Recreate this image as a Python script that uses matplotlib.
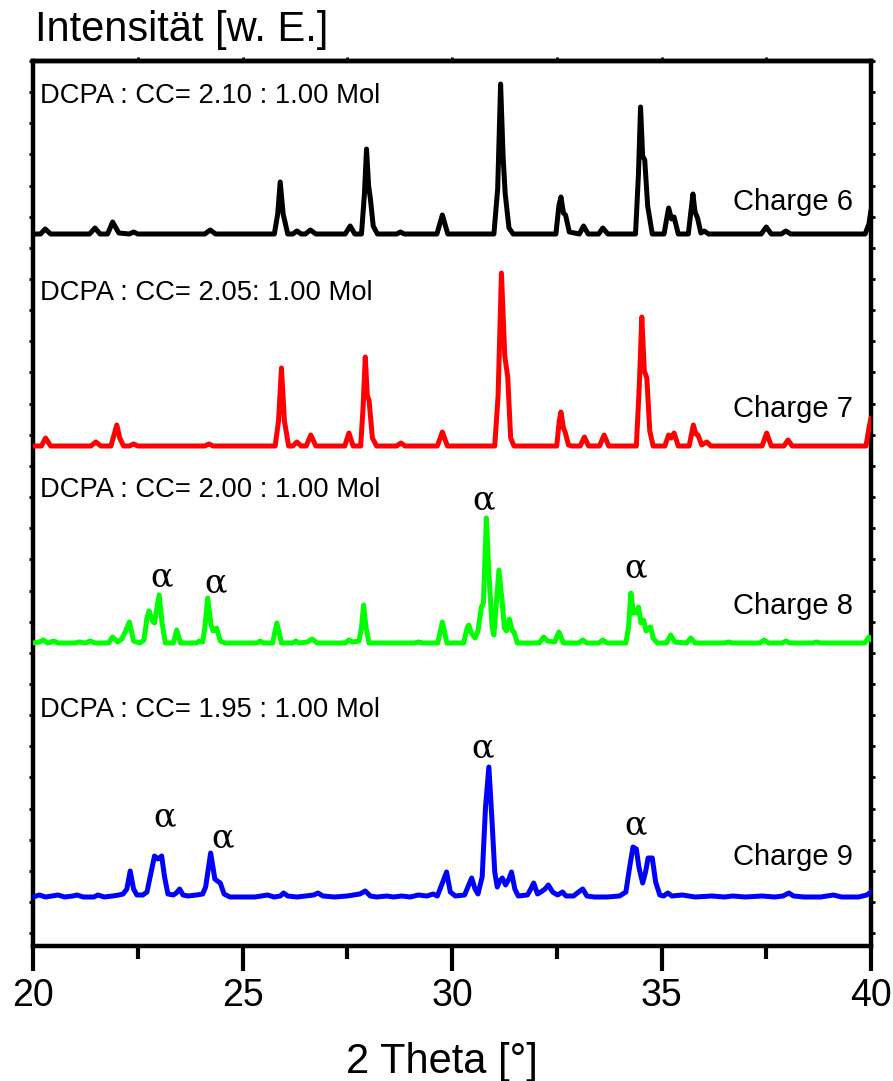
import matplotlib
matplotlib.use("Agg")
import matplotlib.pyplot as plt
import numpy as np

# ---------------- data (2theta [deg], intensity [a.u.] above each baseline) ----------------
charge6 = [(20.00,0),(20.18,0),(20.29,5),(20.42,0),(21.35,0),(21.48,6),(21.60,0),(21.78,0),(21.90,12),
           (22.05,1),(22.30,0),(22.40,2),(22.50,0),(24.10,0),(24.23,4),(24.36,0),(25.76,0),(25.84,20),
           (25.90,52),(25.97,20),(26.08,0),(26.20,0),(26.30,3),(26.40,0),(26.50,0),(26.62,4),(26.75,0),
           (27.45,0),(27.57,8),(27.68,0),(27.84,0),(27.91,40),(27.96,85),(28.01,48),(28.05,36),(28.12,8),
           (28.22,0),(28.68,0),(28.77,2),(28.86,0),(29.64,0),(29.77,19),(29.90,0),(31.00,0),(31.09,45),
           (31.16,150),(31.22,77),(31.27,40),(31.36,6),(31.46,0),(32.48,0),(32.55,28),(32.60,37),(32.66,21),
           (32.71,19),(32.80,2),(33.04,0),(33.14,8),(33.25,0),(33.50,0),(33.60,6),(33.72,0),(34.38,0),
           (34.45,60),(34.50,127),(34.55,78),(34.60,74),(34.67,28),(34.78,0),(35.06,0),(35.17,26),(35.24,15),
           (35.30,17),(35.40,0),(35.64,0),(35.75,40),(35.80,22),(35.86,16),(35.94,1),(36.02,3),(36.12,0),
           (37.38,0),(37.50,7),(37.62,0),(37.86,0),(37.97,3),(38.08,0),(39.86,0),(39.95,10),(40.00,24)]

charge7 = [(20.00,0),(20.20,0),(20.30,8),(20.42,0),(21.38,0),(21.50,4),(21.62,0),(21.86,0),(21.94,12),
           (22.00,21),(22.07,8),(22.16,0),(22.30,0),(22.40,2),(22.50,0),(24.10,0),(24.20,2),(24.30,0),
           (25.78,0),(25.86,25),(25.93,78),(26.00,25),(26.10,0),(26.20,0),(26.30,4),(26.40,0),(26.52,0),
           (26.63,11),(26.75,0),(27.44,0),(27.54,13),(27.64,0),(27.82,0),(27.88,40),(27.93,89),(27.98,50),
           (28.02,46),(28.10,8),(28.20,0),(28.68,0),(28.78,3),(28.88,0),(29.65,0),(29.77,14),(29.89,0),
           (31.02,0),(31.10,50),(31.18,173),(31.26,90),(31.33,69),(31.40,8),(31.48,0),(32.50,0),(32.56,25),
           (32.60,34),(32.66,18),(32.70,14),(32.78,1),(32.86,0),(33.06,0),(33.16,9),(33.26,0),(33.52,0),
           (33.63,11),(33.74,0),(34.40,0),(34.47,60),(34.53,129),(34.59,75),(34.65,68),(34.72,15),(34.80,0),
           (35.08,0),(35.17,11),(35.23,8),(35.30,13),(35.40,0),(35.66,0),(35.76,21),(35.82,12),(35.87,11),
           (35.96,1),(36.08,4),(36.18,0),(37.40,0),(37.51,13),(37.62,0),(37.92,0),(38.02,6),(38.12,0),
           (39.88,0),(39.96,20),(40.00,28)]

charge8 = [(20.00,0),(20.15,1),(20.25,3),(20.35,0),(20.50,2),(20.60,0),(21.00,0),(21.10,1),(21.25,0),
           (21.36,2),(21.48,0),(21.80,0),(21.90,6),(22.02,1),(22.12,4),(22.20,11),(22.30,21),(22.40,2),
           (22.55,0),(22.65,3),(22.72,25),(22.77,32),(22.85,22),(22.90,20),(22.96,35),(23.01,48),(23.08,20),
           (23.16,0),(23.35,0),(23.43,13),(23.52,0),(23.90,0),(23.97,2),(24.05,1),(24.10,15),(24.17,45),
           (24.25,18),(24.30,12),(24.38,15),(24.47,2),(24.58,0),(25.35,0),(25.42,2),(25.50,0),(25.72,0),
           (25.82,20),(25.93,0),(26.20,0),(26.27,2),(26.35,0),(26.55,1),(26.66,4),(26.78,0),(27.45,0),
           (27.54,3),(27.62,1),(27.78,2),(27.84,15),(27.89,38),(27.95,15),(28.02,0),(29.10,0),(29.20,1),
           (29.30,0),(29.66,0),(29.77,21),(29.88,0),(30.28,0),(30.36,15),(30.40,18),(30.46,10),(30.55,5),
           (30.62,12),(30.70,36),(30.75,40),(30.82,125),(30.88,70),(30.96,15),(31.00,8),(31.06,40),
           (31.12,73),(31.20,40),(31.25,15),(31.30,12),(31.37,24),(31.44,12),(31.48,11),(31.56,0),(32.08,0),
           (32.19,6),(32.28,2),(32.45,1),(32.55,11),(32.66,0),(33.02,0),(33.12,3),(33.22,0),(33.50,0),
           (33.60,3),(33.70,0),(34.15,0),(34.21,15),(34.27,50),(34.33,30),(34.40,30),(34.45,36),(34.51,20),
           (34.57,23),(34.63,12),(34.70,15),(34.74,16),(34.80,5),(34.90,0),(35.12,0),(35.22,8),(35.32,1),
           (35.60,0),(35.70,5),(35.80,0),(36.50,0),(36.60,1),(36.70,0),(37.35,0),(37.45,3),(37.55,0),
           (37.88,0),(37.97,2),(38.06,0),(38.60,0),(38.70,1),(38.80,0),(39.85,0),(39.95,6),(40.00,3)]

charge9 = [(20.00,0),(20.15,2),(20.30,0),(20.45,1),(20.60,2),(20.75,0),(20.95,1),(21.05,2),(21.20,0),
           (21.45,0),(21.55,2),(21.70,0),(21.90,1),(22.05,2),(22.15,3),(22.24,8),(22.32,26),(22.40,8),
           (22.48,2),(22.62,2),(22.72,5),(22.82,25),(22.90,41),(22.98,38),(23.07,41),(23.14,20),(23.22,3),
           (23.35,2),(23.42,4),(23.50,8),(23.58,2),(23.70,1),(23.90,2),(24.05,3),(24.12,10),(24.24,44),
           (24.34,18),(24.40,16),(24.47,14),(24.56,3),(24.70,0),(25.30,0),(25.45,1),(25.60,2),(25.75,0),
           (25.90,1),(25.98,4),(26.08,1),(26.30,0),(26.50,1),(26.70,2),(26.80,4),(26.92,1),(27.20,0),
           (27.50,1),(27.80,3),(27.93,6),(28.05,1),(28.20,0),(28.45,1),(28.60,0),(28.80,1),(29.00,0),
           (29.20,2),(29.40,1),(29.55,3),(29.65,1),(29.78,15),(29.87,25),(29.96,5),(30.08,1),(30.30,2),
           (30.40,12),(30.47,19),(30.55,8),(30.62,3),(30.72,20),(30.80,90),(30.88,130),(30.95,80),(31.02,25),
           (31.08,10),(31.14,16),(31.20,19),(31.28,12),(31.36,18),(31.42,25),(31.50,8),(31.58,1),(31.80,2),
           (31.88,8),(31.95,14),(32.04,3),(32.12,5),(32.22,8),(32.30,12),(32.40,5),(32.52,2),(32.64,5),
           (32.72,1),(32.90,1),(33.02,5),(33.12,8),(33.22,1),(33.40,0),(33.70,0),(34.00,1),(34.15,5),
           (34.24,30),(34.32,50),(34.40,48),(34.46,30),(34.55,14),(34.62,25),(34.68,39),(34.78,39),(34.86,15),
           (34.96,2),(35.05,1),(35.15,4),(35.25,1),(35.50,2),(35.80,0),(36.20,1),(36.50,0),(36.70,1),
           (37.00,0),(37.40,1),(37.70,0),(37.90,1),(38.04,4),(38.15,1),(38.40,0),(38.80,0),(39.10,2),
           (39.30,0),(39.70,0),(39.90,2),(40.00,5)]

series_names = ["Charge 6", "Charge 7", "Charge 8", "Charge 9"]
ratio_labels = ["DCPA : CC= 2.10 : 1.00 Mol", "DCPA : CC= 2.05: 1.00 Mol",
                "DCPA : CC= 2.00 : 1.00 Mol", "DCPA : CC= 1.95 : 1.00 Mol"]
baselines = [712, 500, 303, 49]
colors = ["#000000", "#ff0000", "#00ff00", "#0000ff"]

# alpha-phase markers (2theta, y)
alpha_marks = [(23.08, 369), (24.37, 363), (30.75, 446), (34.38, 378),
               (23.15, 129), (24.52, 108), (30.73, 198), (34.38, 121)]

x_ticks = [20, 25, 30, 35, 40]

# ---------------- figure ----------------
plt.rcParams['font.family'] = ['Liberation Sans', 'DejaVu Sans']
fig = plt.figure(figsize=(8.93, 10.81), dpi=100)
ax = fig.add_axes([33/893, (1081-946)/1081, (871-33)/893, (946-61)/1081])

for data, base, col in zip([charge6, charge7, charge8, charge9], baselines, colors):
    xs, ys = zip(*data)
    ax.plot(xs, np.array(ys) + base, color=col, lw=3.6, solid_joinstyle='round',
            solid_capstyle='round', clip_on=True, zorder=3)

charge_y = [744, 537, 340, 89]
ratio_y = [850, 653, 456, 236]
for name, cy in zip(series_names, charge_y):
    ax.text(39.57, cy, name, ha='right', va='center', fontsize=21, zorder=4)
for lab, ry in zip(ratio_labels, ratio_y):
    ax.text(20.17, ry, lab, ha='left', va='center', fontsize=19.7, zorder=4)
for ax_, ay in alpha_marks:
    ax.text(ax_, ay, "α", ha='center', va='center', fontsize=24,
            family=['DejaVu Serif'], zorder=4)

ax.set_xlim(20, 40)
ax.set_ylim(0, 885)
ax.set_xticks(x_ticks)
ax.set_xticks(np.arange(22.5, 40, 5), minor=True)
ax.set_yticks(np.arange(885, 0, -31.15))
ax.set_yticklabels([])
ax.tick_params(axis='x', which='major', direction='out', length=18, width=3, labelsize=27, pad=5,
               top=False)
ax.tick_params(axis='x', which='minor', direction='out', length=9, width=3, top=False)
ax.tick_params(axis='y', which='major', direction='out', length=3, width=2, left=True, right=True)

# small ticks on top edge every 2.5
ax_top = ax.secondary_xaxis('top')
ax_top.set_xticks(np.arange(22.5, 40, 2.5))
ax_top.set_xticklabels([])
ax_top.tick_params(direction='out', length=3, width=2)
ax_top.spines['top'].set_linewidth(3.2)

for s in ax.spines.values():
    s.set_linewidth(3.2)

ax.set_xlabel("2 Theta [°]", fontsize=30, labelpad=24)
ax.xaxis.set_label_coords(0.488, -0.108)
fig.text(35/893, 1 - 30/1081, "Intensität [w. E.]", ha='left', va='center', fontsize=30)

fig.savefig("out.png", dpi=100)
